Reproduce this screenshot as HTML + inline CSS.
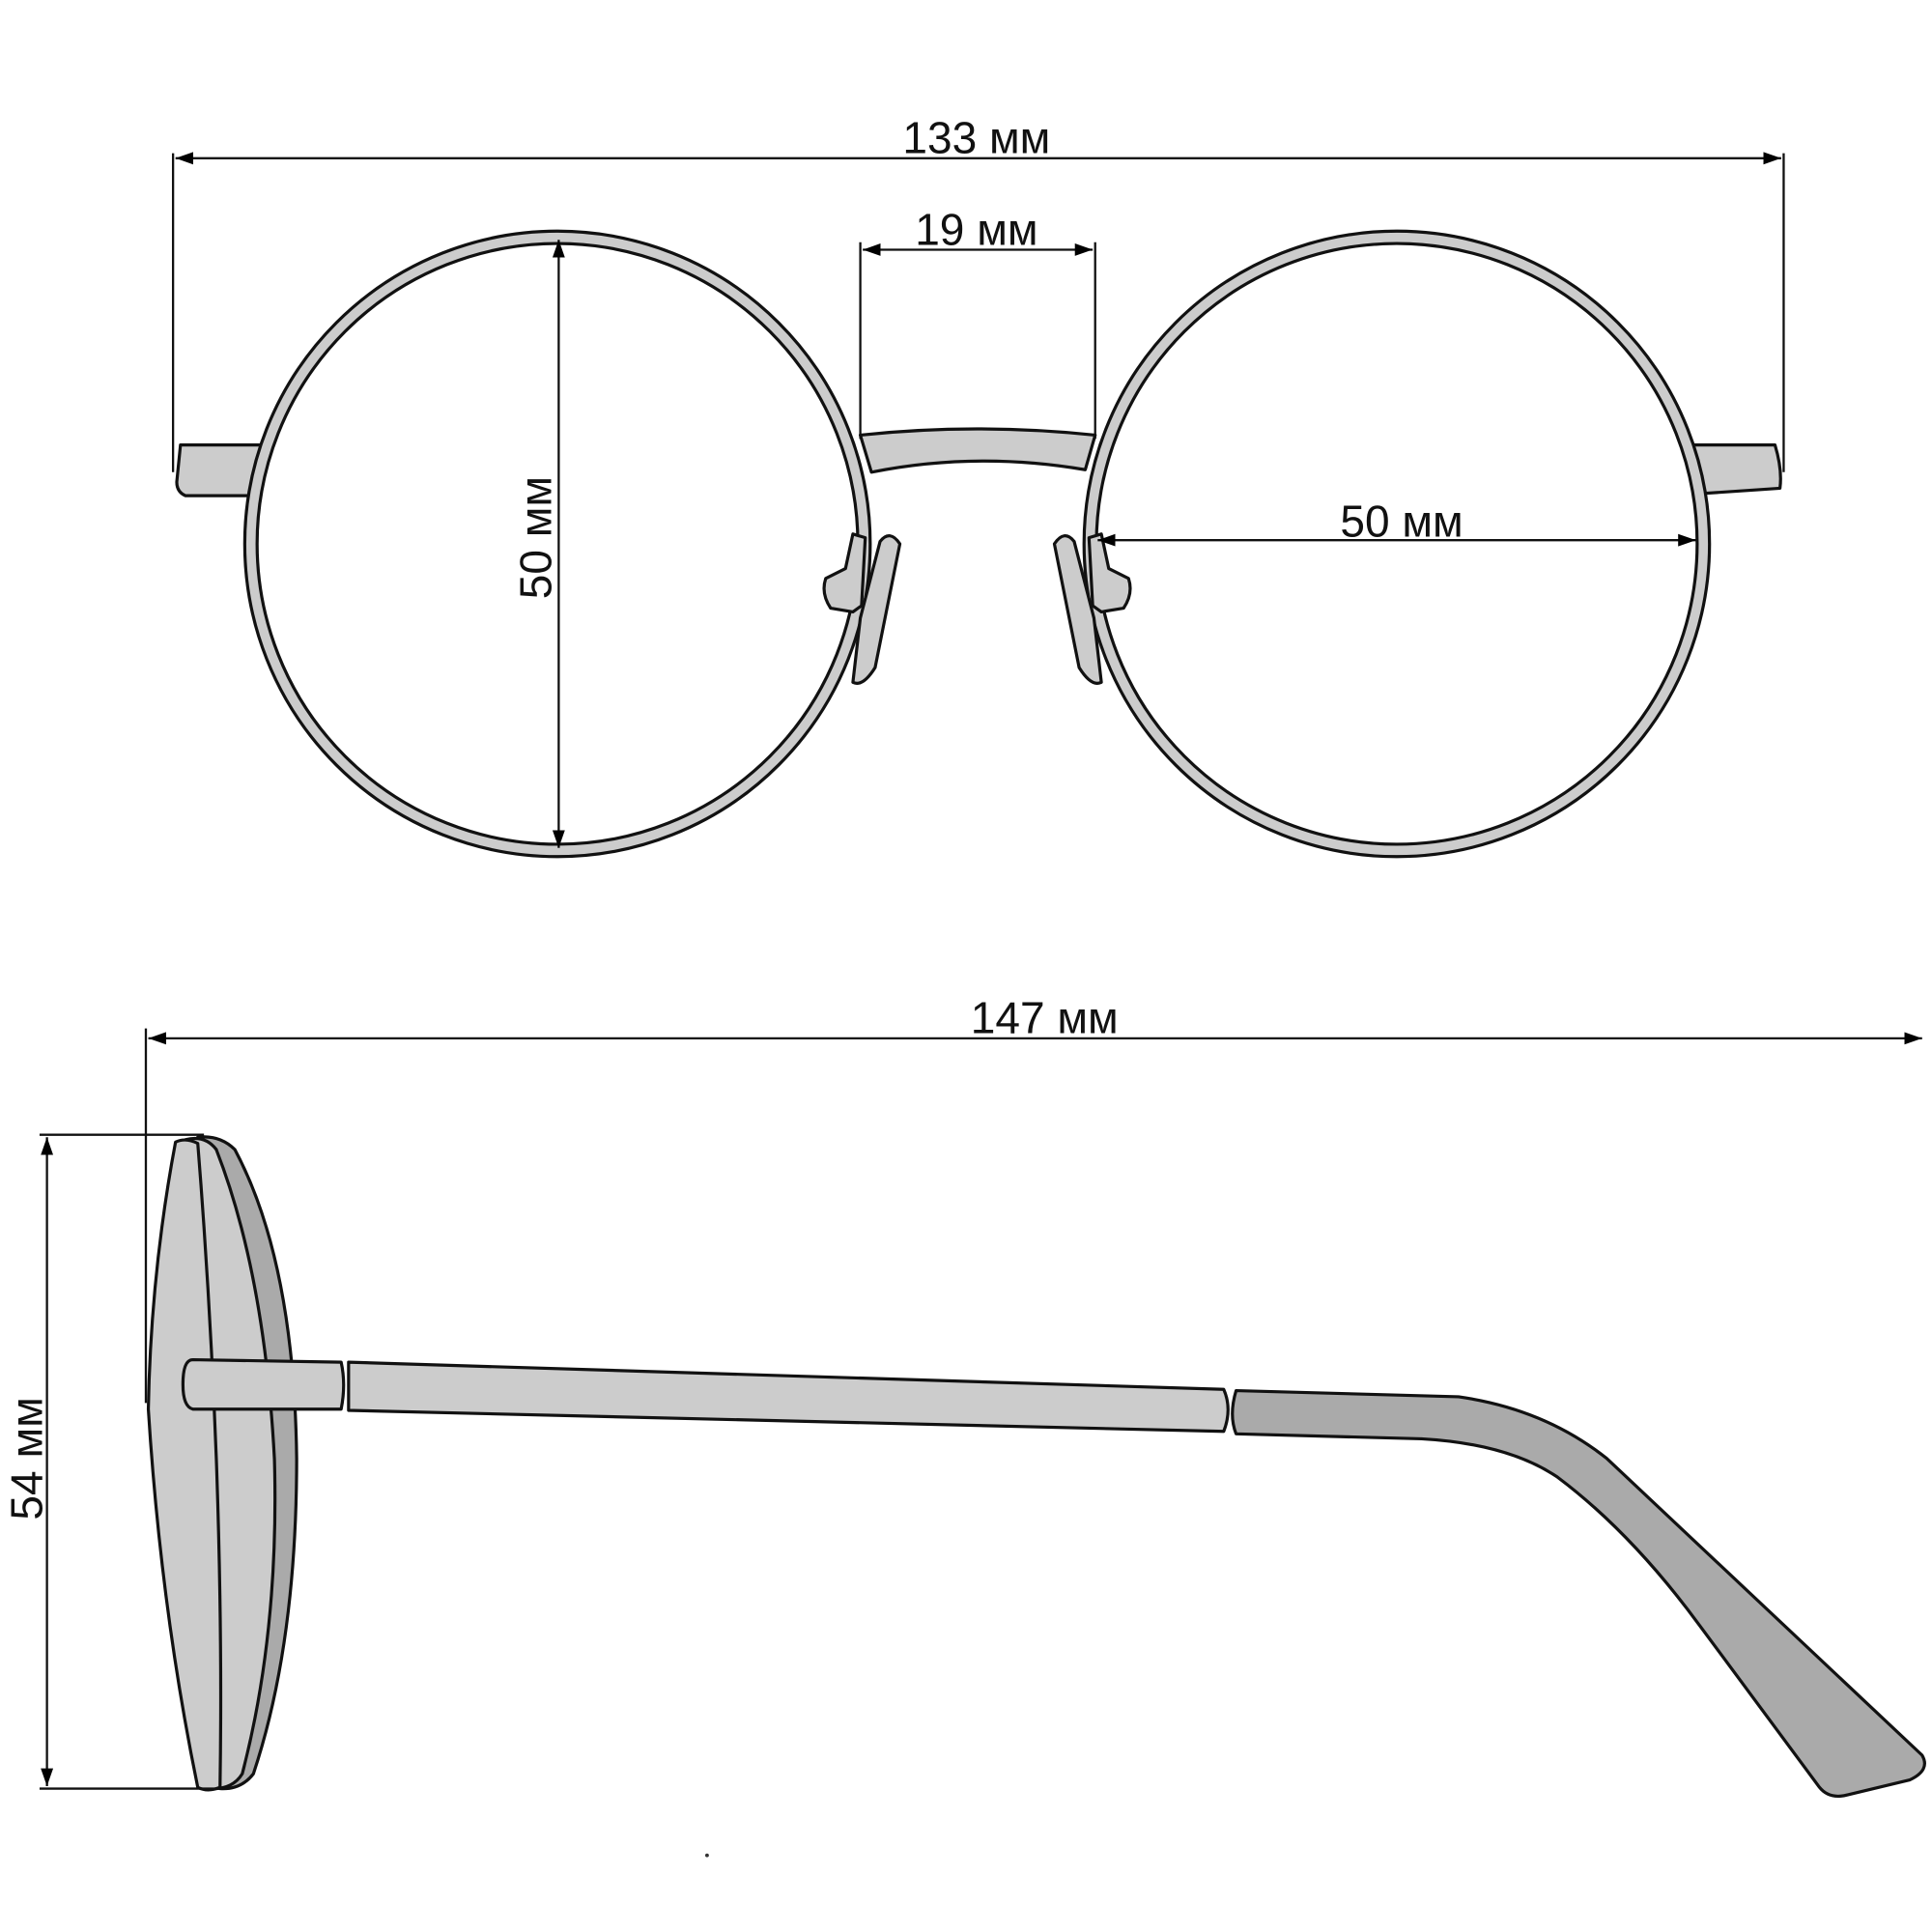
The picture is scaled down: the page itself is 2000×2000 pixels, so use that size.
<!DOCTYPE html>
<html><head><meta charset="utf-8"><style>
html,body{margin:0;padding:0;background:#fff}
svg{display:block}
text{font-family:"Liberation Sans",sans-serif;font-size:36px;fill:#111}
</style></head><body>
<svg width="2000" height="2000" viewBox="0 0 1563 1563" xmlns="http://www.w3.org/2000/svg">
<defs>
<marker id="a" viewBox="0 0 10 10" refX="10" refY="5" markerWidth="8" markerHeight="8" orient="auto-start-reverse"><path d="M0,1.5 L10,5 L0,8.5 Z" fill="#000"/></marker>
</defs>
<g stroke="#111" stroke-width="2.5" stroke-linejoin="round">
<path d="M146,360 L222,360 L214,401 L150,401 Q143,398 143,390 Z" fill="#ccc"/>
<path d="M1360,360 L1436,360 Q1442,380 1440,395 L1366,400 Z" fill="#ccc"/>
<path d="M696,352 Q790,342 886,352 L878,380 Q790,365 705,382 Z" fill="#ccc"/>
<circle cx="451" cy="440" r="253" fill="#ccc"/>
<circle cx="451" cy="440" r="243" fill="#fff"/>
<circle cx="1130" cy="440" r="253" fill="#ccc"/>
<circle cx="1130" cy="440" r="243" fill="#fff"/>
<path d="M690,432 L700,435 L697,490 L690,495 L672,492 Q664,480 668,468 L684,460 Z" fill="#ccc"/>
<path d="M712,438 Q720,428 728,440 L708,540 Q698,556 690,552 L696,500 Z" fill="#ccc"/>
<path d="M891,432 L881,435 L884,490 L891,495 L909,492 Q917,480 913,468 L897,460 Z" fill="#ccc"/>
<path d="M869,438 Q861,428 853,440 L873,540 Q883,556 891,552 L885,500 Z" fill="#ccc"/>
</g>
<g stroke="#111" stroke-width="1.8" fill="none">
<line x1="140" y1="124" x2="140" y2="382"/>
<line x1="1443" y1="124" x2="1443" y2="382"/>
<line x1="142" y1="128" x2="1441" y2="128" marker-start="url(#a)" marker-end="url(#a)"/>
<line x1="696" y1="196" x2="696" y2="355"/>
<line x1="886" y1="196" x2="886" y2="355"/>
<line x1="698" y1="202" x2="884" y2="202" marker-start="url(#a)" marker-end="url(#a)"/>
<line x1="452" y1="194" x2="452" y2="686" marker-start="url(#a)" marker-end="url(#a)"/>
<line x1="888" y1="437" x2="1372" y2="437" marker-start="url(#a)" marker-end="url(#a)"/>
</g>
<text x="790" y="124" text-anchor="middle">133 мм</text>
<text x="790" y="198" text-anchor="middle">19 мм</text>
<text x="1134" y="434" text-anchor="middle">50 мм</text>
<text transform="translate(446,435) rotate(-90)" text-anchor="middle">50 мм</text>

<g stroke="#111" stroke-width="2.5" stroke-linejoin="round">
<path d="M160,920 Q178,918 190,930 Q238,1020 240,1180 Q240,1330 205,1435 Q195,1448 178,1447 Z" fill="#aaa"/>
<path d="M150,922 Q166,918 175,930 Q214,1030 222,1180 Q226,1320 196,1435 Q188,1448 170,1447 Z" fill="#ccc"/>
<path d="M142,924 Q150,920 160,925 Q170,1050 175,1180 Q180,1320 178,1446 Q168,1450 160,1446 Q130,1300 120,1140 Q122,1030 142,924 Z" fill="#ccc"/>
<path d="M1000,1125 L1180,1130 Q1250,1140 1300,1180 L1555,1420 Q1562,1432 1545,1440 L1495,1452 Q1480,1456 1472,1446 L1375,1315 Q1320,1240 1260,1195 Q1220,1168 1150,1164 L1000,1160 Q994,1145 1000,1125 Z" fill="#aaa"/>
<path d="M282,1102 L990,1124 Q997,1140 990,1158 L282,1141 Z" fill="#ccc"/>
<path d="M156,1100 L276,1102 Q280,1120 276,1140 L156,1140 Q148,1138 148,1120 Q148,1100 156,1100 Z" fill="#ccc"/>
</g>
<g stroke="#111" stroke-width="1.8" fill="none">
<line x1="118" y1="832" x2="118" y2="1135"/>
<line x1="120" y1="840" x2="1555" y2="840" marker-start="url(#a)" marker-end="url(#a)"/>
<line x1="32" y1="918" x2="165" y2="918"/>
<line x1="32" y1="1447" x2="182" y2="1447"/>
<line x1="38" y1="920" x2="38" y2="1445" marker-start="url(#a)" marker-end="url(#a)"/>
</g>
<text x="845" y="836" text-anchor="middle">147 мм</text>
<text transform="translate(34,1180) rotate(-90)" text-anchor="middle">54 мм</text>
<circle cx="572" cy="1501" r="1.5" fill="#333"/>
</svg>
</body></html>
